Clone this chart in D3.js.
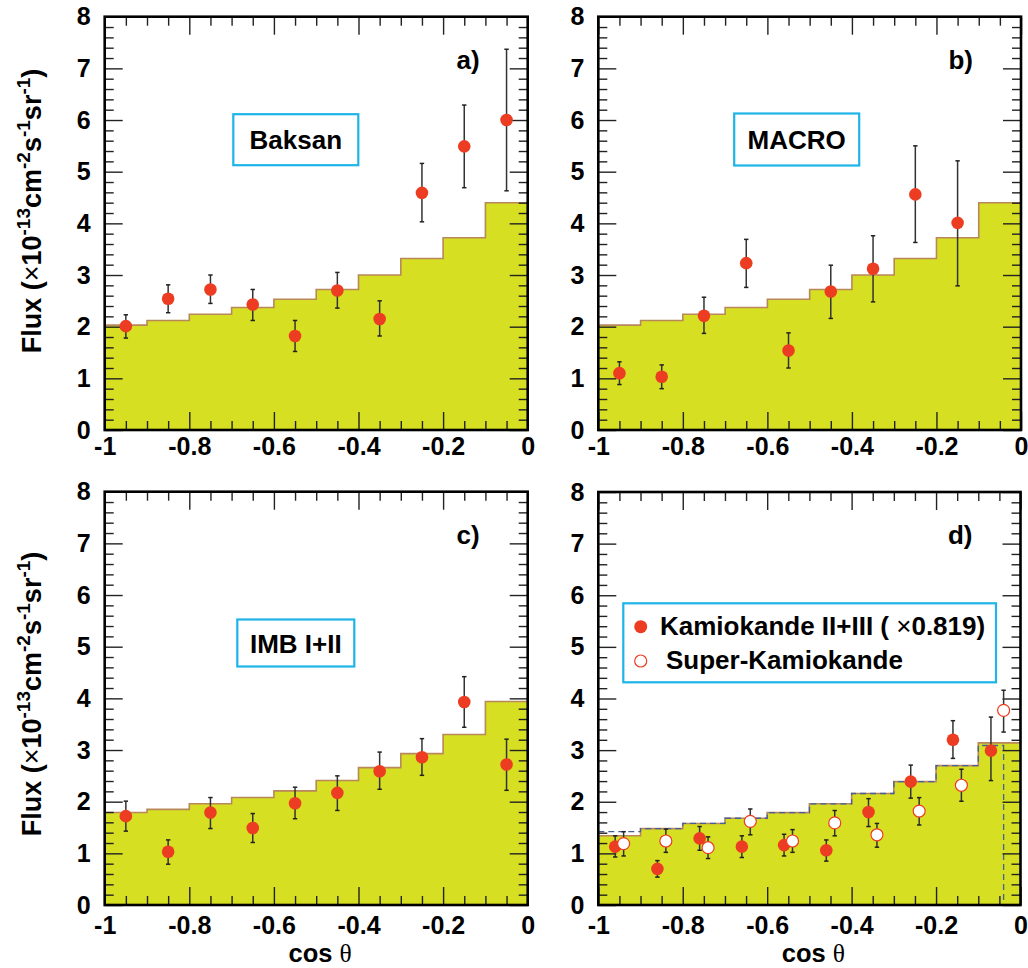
<!DOCTYPE html>
<html><head><meta charset="utf-8">
<script src="https://cdn.jsdelivr.net/npm/d3@7"></script>
<style>
body{margin:0;background:#fff}
svg{display:block}
text{font-family:"Liberation Sans",Arial,Helvetica,sans-serif;font-weight:bold;fill:#000}
</style>
</head><body>
<svg id="chart" width="1028" height="968"></svg>
<script>
// ---------------- DATA ----------------
const binEdges = [-1, -0.9, -0.8, -0.7, -0.6, -0.5, -0.4, -0.3, -0.2, -0.1, 0];
const binEdgesSK = [-1, -0.9, -0.8, -0.7, -0.6, -0.5, -0.4, -0.3, -0.2, -0.1, -0.04];

const expectBaksan = [2.03, 2.12, 2.24, 2.37, 2.53, 2.72, 3.00, 3.32, 3.72, 4.40];
const expectMacro  = [2.03, 2.12, 2.24, 2.37, 2.53, 2.72, 3.00, 3.32, 3.72, 4.40];
const expectIMB    = [1.79, 1.85, 1.96, 2.08, 2.21, 2.41, 2.66, 2.93, 3.30, 3.94];
const expectKam    = [1.34, 1.48, 1.58, 1.68, 1.79, 1.96, 2.16, 2.39, 2.70, 3.14];
const expectSK     = [1.42, 1.48, 1.58, 1.68, 1.79, 1.96, 2.16, 2.39, 2.70, 3.09];

const baksanX  = [-0.95, -0.85, -0.75, -0.65, -0.55, -0.45, -0.35, -0.25, -0.15, -0.05];
const baksanY  = [2.01, 2.54, 2.72, 2.43, 1.82, 2.70, 2.15, 4.59, 5.49, 6.00];
const baksanHi = [2.23, 2.81, 3.00, 2.72, 2.12, 3.05, 2.50, 5.16, 6.29, 7.37];
const baksanLo = [1.78, 2.27, 2.45, 2.12, 1.52, 2.36, 1.82, 4.03, 4.69, 4.63];

const macroX  = [-0.95, -0.85, -0.75, -0.65, -0.55, -0.45, -0.35, -0.25, -0.15];
const macroY  = [1.10, 1.03, 2.21, 3.23, 1.54, 2.68, 3.12, 4.56, 4.01];
const macroHi = [1.32, 1.26, 2.57, 3.69, 1.88, 3.19, 3.76, 5.50, 5.21];
const macroLo = [0.88, 0.80, 1.87, 2.76, 1.20, 2.16, 2.48, 3.63, 2.79];

const imbX  = [-0.95, -0.85, -0.75, -0.65, -0.55, -0.45, -0.35, -0.25, -0.15, -0.05];
const imbY  = [1.72, 1.03, 1.79, 1.49, 1.97, 2.17, 2.59, 2.86, 3.93, 2.72];
const imbHi = [2.01, 1.26, 2.08, 1.77, 2.28, 2.50, 2.96, 3.22, 4.42, 3.21];
const imbLo = [1.43, 0.79, 1.48, 1.21, 1.67, 1.83, 2.24, 2.51, 3.44, 2.22];

const kamX  = [-0.96, -0.86, -0.76, -0.66, -0.56, -0.46, -0.36, -0.26, -0.16, -0.07];
const kamY  = [1.13, 0.70, 1.29, 1.13, 1.16, 1.06, 1.80, 2.39, 3.20, 2.99];
const kamHi = [1.34, 0.86, 1.52, 1.34, 1.37, 1.26, 2.06, 2.71, 3.57, 3.64];
const kamLo = [0.93, 0.54, 1.06, 0.92, 0.95, 0.85, 1.52, 2.07, 2.84, 2.41];

const skX  = [-0.94, -0.84, -0.74, -0.64, -0.54, -0.44, -0.34, -0.24, -0.14, -0.04];
const skY  = [1.19, 1.24, 1.11, 1.62, 1.24, 1.59, 1.36, 1.82, 2.32, 3.77];
const skHi = [1.42, 1.47, 1.32, 1.86, 1.46, 1.83, 1.58, 2.08, 2.63, 4.16];
const skLo = [0.95, 1.02, 0.90, 1.36, 1.02, 1.34, 1.12, 1.55, 2.01, 3.35];

const xTickVals = [-1, -0.8, -0.6, -0.4, -0.2, 0];
const xTickLabels = ["-1", "-0.8", "-0.6", "-0.4", "-0.2", "0"];
const yTickVals = [0, 1, 2, 3, 4, 5, 6, 7, 8];
const yTickLabels = ["0", "1", "2", "3", "4", "5", "6", "7", "8"];

const panelLetters = ["a)", "b)", "c)", "d)"];
const experimentNames = ["Baksan", "MACRO", "IMB I+II"];
const legendLabels = ["Kamiokande II+III ( ", "\u00d7", "0.819)", "Super-Kamiokande"];

// ---------------- STYLE / LAYOUT ----------------
const FILL = "#d6df21", HISTLINE = "#b8875a", RED = "#ec3d23", CYAN = "#1db4e8";
const svg = d3.select("#chart");

function pts(xs, ys, his, los) { return xs.map((x, i) => ({x, y: ys[i], hi: his[i], lo: los[i]})); }

const panels = [
  {left:104.7, right:527.7, top:16.7, bottom:430, xPad:7.5, expect:expectBaksan,
   series:[{data:pts(baksanX,baksanY,baksanHi,baksanLo), open:false}],
   label:experimentNames[0], box:{cx:295.8, cy:139.7, w:125, h:51}, letter:panelLetters[0], titleCy:211},
  {left:598.3, right:1021, top:16.7, bottom:430, xPad:7.5, expect:expectMacro,
   series:[{data:pts(macroX,macroY,macroHi,macroLo), open:false}],
   label:experimentNames[1], box:{cx:796.7, cy:139.5, w:125, h:52}, letter:panelLetters[1]},
  {left:104.7, right:527.7, top:491.7, bottom:905, xPad:11.2, expect:expectIMB,
   series:[{data:pts(imbX,imbY,imbHi,imbLo), open:false}],
   label:experimentNames[2], box:{cx:295.8, cy:643, w:117, h:47}, letter:panelLetters[2], titleCy:694, xTitle:true},
  {left:598.3, right:1020.5, top:492, bottom:905, xPad:11.2, expect:expectKam, expect2:expectSK,
   series:[{data:pts(kamX,kamY,kamHi,kamLo), open:false},{data:pts(skX,skY,skHi,skLo), open:true}],
   letter:panelLetters[3], legend:true, xTitle:true}
];

panels.forEach((p, pi) => {
  const x = d3.scaleLinear().domain([-1, 0]).range([p.left, p.right]);
  const y = d3.scaleLinear().domain([0, 8]).range([p.bottom, p.top]);
  const g = svg.append("g");
  const clipId = "clip" + pi;
  g.append("clipPath").attr("id", clipId).append("rect")
    .attr("x", p.left).attr("y", p.top).attr("width", p.right - p.left).attr("height", p.bottom - p.top);
  const inner = g.append("g").attr("clip-path", `url(#${clipId})`);

  // histogram
  const hist = p.expect.map((v, i) => [binEdges[i], v]).concat([[binEdges[binEdges.length - 1], p.expect[p.expect.length - 1]]]);
  inner.append("path")
    .attr("d", d3.area().x(d => x(d[0])).y0(y(0)).y1(d => y(d[1])).curve(d3.curveStepAfter)(hist))
    .attr("fill", FILL);
  inner.append("path")
    .attr("d", d3.line().x(d => x(d[0])).y(d => y(d[1])).curve(d3.curveStepAfter)(hist))
    .attr("fill", "none").attr("stroke", HISTLINE).attr("stroke-width", 1.6);
  if (p.expect2) {
    const h2 = p.expect2.map((v, i) => [binEdgesSK[i], v])
      .concat([[binEdgesSK[binEdgesSK.length - 1], p.expect2[p.expect2.length - 1]], [binEdgesSK[binEdgesSK.length - 1], 0]]);
    inner.append("path")
      .attr("d", d3.line().x(d => x(d[0])).y(d => y(d[1])).curve(d3.curveStepAfter)(h2))
      .attr("fill", "none").attr("stroke", "#44609a").attr("stroke-width", 1.3).attr("stroke-dasharray", "6,4");
  }

  // ticks
  const xMinor = d3.range(-0.95, 0, 0.05).filter(v => Math.abs(v * 5 - Math.round(v * 5)) > 1e-6);
  const yMinor = d3.range(0.2, 8, 0.2).filter(v => Math.abs(v - Math.round(v)) > 1e-6);
  const axes = [
    [d3.axisBottom(x).tickValues(xTickVals).tickSize(-18).tickPadding(p.xPad).tickFormat((d, i) => xTickLabels[i]), `translate(0,${p.bottom})`],
    [d3.axisBottom(x).tickValues(xMinor).tickSize(-9).tickFormat(""), `translate(0,${p.bottom})`],
    [d3.axisTop(x).tickValues(xTickVals).tickSize(-18).tickFormat(""), `translate(0,${p.top})`],
    [d3.axisTop(x).tickValues(xMinor).tickSize(-9).tickFormat(""), `translate(0,${p.top})`],
    [d3.axisLeft(y).tickValues(yTickVals).tickSize(-18).tickPadding(14).tickFormat((d, i) => yTickLabels[i]), `translate(${p.left},0)`],
    [d3.axisLeft(y).tickValues(yMinor).tickSize(-9).tickFormat(""), `translate(${p.left},0)`],
    [d3.axisRight(y).tickValues(yTickVals).tickSize(-18).tickFormat(""), `translate(${p.right},0)`],
    [d3.axisRight(y).tickValues(yMinor).tickSize(-9).tickFormat(""), `translate(${p.right},0)`]
  ];
  axes.forEach(([ax, tr]) => {
    const ag = g.append("g").attr("transform", tr).call(ax);
    ag.select(".domain").remove();
    ag.attr("font-size", 25).attr("font-family", '"Liberation Sans",Arial,sans-serif').attr("font-weight", "bold");
    ag.selectAll("line").attr("stroke", "#222").attr("stroke-width", 1.4);
    ag.selectAll("text").attr("fill", "#000");
  });

  // error bars and markers
  p.series.forEach(s => {
    const eg = g.append("g");
    s.data.forEach(d => {
      eg.append("line").attr("x1", x(d.x)).attr("x2", x(d.x)).attr("y1", y(d.lo)).attr("y2", y(d.hi))
        .attr("stroke", "#333").attr("stroke-width", 1.5);
      [d.lo, d.hi].forEach(v => eg.append("line").attr("x1", x(d.x) - 2.2).attr("x2", x(d.x) + 2.2)
        .attr("y1", y(v)).attr("y2", y(v)).attr("stroke", "#222").attr("stroke-width", 1.5));
    });
    g.append("g").selectAll("circle").data(s.data).join("circle")
      .attr("cx", d => x(d.x)).attr("cy", d => y(d.y)).attr("r", s.open ? 6 : 6.3)
      .attr("fill", s.open ? "#fff" : RED)
      .attr("stroke", s.open ? RED : "none").attr("stroke-width", 1.2);
  });

  // frame
  g.append("rect").attr("x", p.left).attr("y", p.top).attr("width", p.right - p.left).attr("height", p.bottom - p.top)
    .attr("fill", "none").attr("stroke", "#000").attr("stroke-width", 2.6);

  // panel letter
  g.append("text").attr("x", p.right - 48).attr("y", p.top + 52).attr("text-anchor", "end")
    .attr("font-size", 26).text(p.letter);

  // experiment label box
  if (p.label) {
    g.append("rect").attr("x", p.box.cx - p.box.w / 2).attr("y", p.box.cy - p.box.h / 2)
      .attr("width", p.box.w).attr("height", p.box.h).attr("fill", "#fff").attr("stroke", CYAN).attr("stroke-width", 2.2);
    g.append("text").attr("x", p.box.cx).attr("y", p.box.cy + 9.5).attr("text-anchor", "middle")
      .attr("font-size", 26).text(p.label);
  }

  // legend
  if (p.legend) {
    g.append("rect").attr("x", 623.3).attr("y", 603.3).attr("width", 372.7).attr("height", 79)
      .attr("fill", "#fff").attr("stroke", CYAN).attr("stroke-width", 2.2);
    g.append("circle").attr("cx", 640.7).attr("cy", 626.7).attr("r", 6.5).attr("fill", RED);
    g.append("circle").attr("cx", 640.7).attr("cy", 661).attr("r", 6).attr("fill", "#fff").attr("stroke", RED).attr("stroke-width", 1.2);
    const t1 = g.append("text").attr("x", 660).attr("y", 635).attr("font-size", 26);
    t1.append("tspan").text(legendLabels[0]);
    t1.append("tspan").attr("font-weight", "normal").text(legendLabels[1]);
    t1.append("tspan").text(legendLabels[2]);
    g.append("text").attr("x", 666).attr("y", 669).attr("font-size", 26).text(legendLabels[3]);
  }

  // y title
  if (p.titleCy) {
    const t = g.append("text").attr("transform", `translate(41,${p.titleCy}) rotate(-90)`)
      .attr("text-anchor", "middle").attr("font-size", 27);
    t.append("tspan").text("Flux (");
    t.append("tspan").attr("font-weight", "normal").text("\u00d7");
    t.append("tspan").text("10");
    t.append("tspan").attr("dy", -11).attr("font-size", 19).text("-13");
    t.append("tspan").attr("dy", 11).text("cm");
    t.append("tspan").attr("dy", -11).attr("font-size", 19).text("-2");
    t.append("tspan").attr("dy", 11).text("s");
    t.append("tspan").attr("dy", -11).attr("font-size", 19).text("-1");
    t.append("tspan").attr("dy", 11).text("sr");
    t.append("tspan").attr("dy", -11).attr("font-size", 19).text("-1");
    t.append("tspan").attr("dy", 11).text(")");
  }
  if (p.xTitle) {
    const t = g.append("text").attr("x", (p.left + p.right) / 2 + 4).attr("y", 962.3).attr("text-anchor", "middle").attr("font-size", 25.5);
    t.append("tspan").text("cos ");
    t.append("tspan").attr("font-weight", "normal").attr("font-family", '"Liberation Serif","Times New Roman",serif').text("\u03b8");
  }
});
</script>
</body></html>
